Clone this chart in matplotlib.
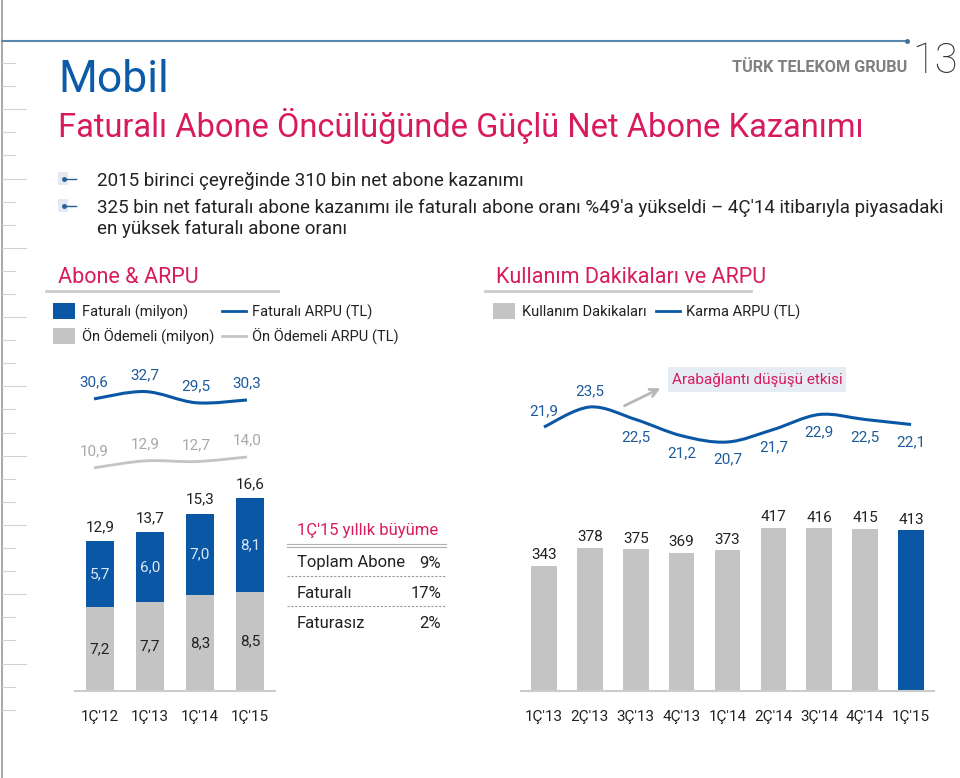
import numpy as np
import matplotlib
matplotlib.use("Agg")
import matplotlib.pyplot as plt
from matplotlib.path import Path
from matplotlib.patches import PathPatch, Rectangle

plt.rcParams['font.family'] = ['Roboto', 'DejaVu Sans']

# ---- data ----
abone_quarters = ["1Ç'12", "1Ç'13", "1Ç'14", "1Ç'15"]
faturali = [5.7, 6.0, 7.0, 8.1]
on_odemeli = [7.2, 7.7, 8.3, 8.5]
toplam = [12.9, 13.7, 15.3, 16.6]
faturali_arpu = [30.6, 32.7, 29.5, 30.3]
on_odemeli_arpu = [10.9, 12.9, 12.7, 14.0]

buyume_rows = ["Toplam Abone", "Faturalı", "Faturasız"]
buyume_vals = ["9%", "17%", "2%"]

mou_quarters = ["1Ç'13", "2Ç'13", "3Ç'13", "4Ç'13", "1Ç'14", "2Ç'14", "3Ç'14", "4Ç'14", "1Ç'15"]
kullanim_dk = [343, 378, 375, 369, 373, 417, 416, 415, 413]
karma_arpu = [21.9, 23.5, 22.5, 21.2, 20.7, 21.7, 22.9, 22.5, 22.1]

BLUE = '#0a57a5'
BLUE_TXT = '#1d5b9b'
GRAY = '#c4c4c4'
GRAY_TXT = '#a8a8a8'
PINK = '#d81b5e'
DARK = '#222222'

W, H = 960, 778
fig = plt.figure(figsize=(W / 100, H / 100), dpi=100)
fig.patch.set_facecolor('white')

bg = fig.add_axes([0, 0, 1, 1])
bg.set_xlim(0, W)
bg.set_ylim(H, 0)
bg.axis('off')


def px_axes(x0, x1, y0, y1):
    ax = fig.add_axes([x0 / W, 1 - y1 / H, (x1 - x0) / W, (y1 - y0) / H])
    ax.patch.set_alpha(0)
    for s in ax.spines.values():
        s.set_visible(False)
    return ax


def fmt(v):
    return f"{v:.1f}".replace('.', ',')


def smooth(ax, xs, ys, **kw):
    pts = np.column_stack([xs, ys]).astype(float)
    p = np.vstack([pts[0], pts, pts[-1]])
    verts = [pts[0]]
    codes = [Path.MOVETO]
    for i in range(1, len(p) - 2):
        c1 = p[i] + (p[i + 1] - p[i - 1]) / 6
        c2 = p[i + 1] - (p[i + 2] - p[i]) / 6
        verts += [c1, c2, p[i + 1]]
        codes += [Path.CURVE4] * 3
    ax.add_patch(PathPatch(Path(verts, codes), fill=False, transform=ax.transData, **kw))


# ---- page decoration ----
bg.plot([2, 2], [0, H], color='#9a9a9a', lw=1.2)
ys = np.arange(63, 712, 23.1)
for i, y in enumerate(ys):
    ln = 26 if i % 3 == 2 else 15
    bg.plot([2, ln], [y, y], color='#d2d2d2', lw=0.8)
bg.plot([2, 907], [41, 41], color='#5a87ad', lw=1.5)
bg.plot([907], [41], 'o', color='#3d6f9c', ms=2.5)

bg.text(58, 92, "Mobil", color='#0b5ba8', fontsize=32, va='baseline')
bg.text(907, 72, "TÜRK TELEKOM GRUBU", color='#808080', fontsize=11.7, fontweight='bold',
        ha='right', va='baseline')
bg.text(958, 73, "13", color='#333333', fontsize=30, fontweight='light',
        ha='right', va='baseline')
bg.text(58, 137, "Faturalı Abone Öncülüğünde Güçlü Net Abone Kazanımı", color=PINK,
        fontsize=23.5, va='baseline')

bullets = [(186, "2015 birinci çeyreğinde 310 bin net abone kazanımı"),
           (213, "325 bin net faturalı abone kazanımı ile faturalı abone oranı %49'a yükseldi – 4Ç'14 itibarıyla piyasadaki")]
for y, t in bullets:
    bg.add_patch(Rectangle((58, y - 14), 10, 13, color='#e3e9f1', lw=0))
    bg.plot([64, 76], [y - 7.5, y - 7.5], color='#2a5f96', lw=1)
    bg.plot([64], [y - 7.5], 'o', color='#2a5f96', ms=2.5)
    bg.text(97, y, t, color=DARK, fontsize=13.5, va='baseline')
bg.text(97, 234, "en yüksek faturalı abone oranı", color=DARK, fontsize=13.5, va='baseline')

# section headers
bg.text(58, 283, "Abone & ARPU", color=PINK, fontsize=15.5, va='baseline')
bg.plot([46, 278], [291, 291], color='#cccccc', lw=2)
bg.text(496, 283, "Kullanım Dakikaları ve ARPU", color=PINK, fontsize=15.5, va='baseline')
bg.plot([485, 751], [291, 291], color='#cccccc', lw=2)

# legends
bg.add_patch(Rectangle((53, 303), 22, 16, color=BLUE, lw=0))
bg.text(82, 312, "Faturalı (milyon)", color=DARK, fontsize=10.5, va='center')
bg.add_patch(Rectangle((53, 328), 22, 16, color=GRAY, lw=0))
bg.text(82, 337, "Ön Ödemeli (milyon)", color=DARK, fontsize=10.5, va='center')
bg.plot([222, 246], [311, 311], color=BLUE, lw=2)
bg.text(252, 312, "Faturalı ARPU (TL)", color=DARK, fontsize=10.5, va='center')
bg.plot([222, 246], [336, 336], color=GRAY, lw=2)
bg.text(252, 337, "Ön Ödemeli ARPU (TL)", color=DARK, fontsize=10.5, va='center')

bg.add_patch(Rectangle((493, 303), 22, 16, color=GRAY, lw=0))
bg.text(522, 312, "Kullanım Dakikaları", color=DARK, fontsize=10.5, va='center')
bg.plot([656, 680], [311, 311], color=BLUE, lw=2)
bg.text(686, 312, "Karma ARPU (TL)", color=DARK, fontsize=10.5, va='center')

# ---- left: ARPU lines ----
axl = px_axes(68.5, 272.5, 370, 480)
axl.set_xlim(-0.5, 3.5)
axl.set_ylim(7.43, 38.86)
axl.set_xticks([])
axl.set_yticks([])
x4 = np.arange(len(abone_quarters))
smooth(axl, x4, faturali_arpu, color=BLUE, lw=2.2)
smooth(axl, x4, on_odemeli_arpu, color=GRAY, lw=2)
for x, v in zip(x4, faturali_arpu):
    axl.annotate(fmt(v), (x, v), xytext=(0, 12), textcoords='offset points',
                 ha='center', va='center', color=BLUE_TXT, fontsize=11)
for x, v in zip(x4, on_odemeli_arpu):
    axl.annotate(fmt(v), (x, v), xytext=(0, 12), textcoords='offset points',
                 ha='center', va='center', color=GRAY_TXT, fontsize=11)

# ---- left: stacked bars ----
axb = px_axes(75, 275, 470, 691)
axb.set_xlim(-0.5, 3.5)
axb.set_ylim(0, 19.05)
axb.bar(x4, on_odemeli, width=0.56, color=GRAY)
axb.bar(x4, faturali, bottom=on_odemeli, width=0.56, color=BLUE)
for x, g, b, t in zip(x4, on_odemeli, faturali, toplam):
    axb.text(x, g / 2, fmt(g), ha='center', va='center', color=DARK, fontsize=11)
    axb.text(x, g + b / 2, fmt(b), ha='center', va='center', color='#dce8f5', fontsize=11)
    axb.annotate(fmt(t), (x, g + b), xytext=(0, 10), textcoords='offset points',
                 ha='center', va='center', color=DARK, fontsize=11)
axb.spines['bottom'].set_visible(True)
axb.spines['bottom'].set_color('#cccccc')
axb.spines['bottom'].set_linewidth(1.5)
axb.set_yticks([])
axb.set_xticks(x4)
axb.set_xticklabels(abone_quarters, fontsize=11, color=DARK)
axb.tick_params(axis='x', length=0, pad=14)

# growth table
bg.text(297, 531, "1Ç'15 yıllık büyüme", color=PINK, fontsize=12, va='center')
bg.plot([287, 446], [544, 544], color='#b0b0b0', lw=0.8)
bg.plot([287, 446], [546.5, 546.5], color='#b0b0b0', lw=0.8)
row_y = [563, 593, 623]
for i, (name, val) in enumerate(zip(buyume_rows, buyume_vals)):
    bg.text(297, row_y[i], name, color=DARK, fontsize=12, va='center')
    bg.text(441, row_y[i], val, color=DARK, fontsize=12, va='center', ha='right')
    if i < len(buyume_rows) - 1:
        bg.plot([287, 446], [row_y[i] + 13, row_y[i] + 13], color='#999999', lw=0.8,
                ls=(0, (2, 1.5)))

# ---- right: minutes of usage bars ----
x9 = np.arange(len(mou_quarters))
axr = px_axes(521, 934, 500, 691)
axr.set_xlim(-0.5, 8.5)
axr.set_ylim(99.3, 471.3)
bar_colors = [GRAY] * (len(mou_quarters) - 1) + [BLUE]
axr.bar(x9, kullanim_dk, width=0.56, color=bar_colors)
for x, v in zip(x9, kullanim_dk):
    axr.annotate(str(v), (x, v), xytext=(0, 7.5), textcoords='offset points',
                 ha='center', va='center', color=DARK, fontsize=11)
axr.spines['bottom'].set_visible(True)
axr.spines['bottom'].set_color('#cccccc')
axr.spines['bottom'].set_linewidth(1.5)
axr.set_yticks([])
axr.set_xticks(x9)
axr.set_xticklabels(mou_quarters, fontsize=11, color=DARK)
axr.tick_params(axis='x', length=0, pad=14)

# ---- right: blended ARPU line ----
axa = px_axes(521, 934, 380, 470)
axa.set_xlim(-0.5, 8.5)
axa.set_ylim(18.46, 25.66)
axa.set_xticks([])
axa.set_yticks([])
smooth(axa, x9, karma_arpu, color=BLUE, lw=2.2)
for i, (x, v) in enumerate(zip(x9, karma_arpu)):
    dy = 11 if i < 2 else -12.5
    axa.annotate(fmt(v), (x, v), xytext=(0, dy), textcoords='offset points',
                 ha='center', va='center', color=BLUE_TXT, fontsize=11)

# annotation box and arrow
bg.add_patch(Rectangle((668, 367), 178, 25, color='#e6ecf4', lw=0))
bg.text(757, 380, "Arabağlantı düşüşü etkisi", color=PINK, fontsize=11,
        ha='center', va='center')
bg.annotate("", xy=(663, 387), xytext=(622, 407),
            arrowprops=dict(arrowstyle='->', color='#b8b8b8', lw=2, mutation_scale=14))

fig.savefig("out.png", dpi=100)
